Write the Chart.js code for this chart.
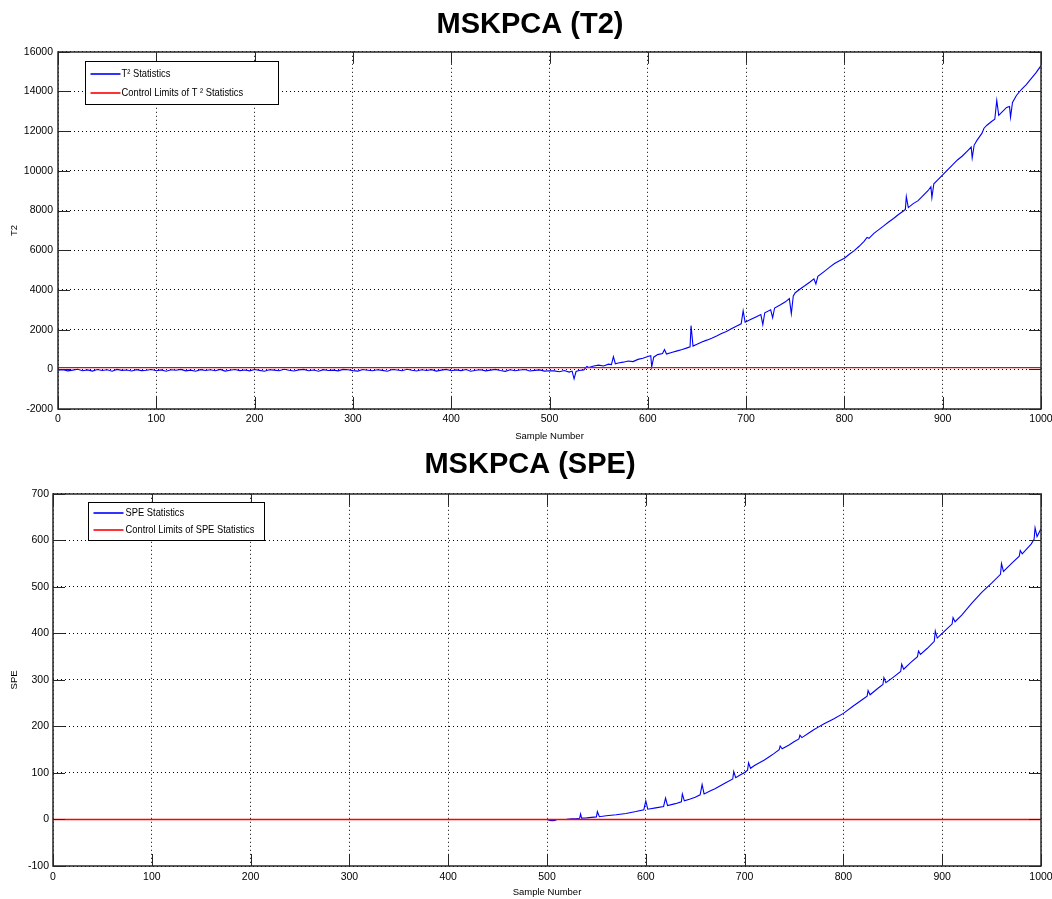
<!DOCTYPE html>
<html>
<head>
<meta charset="utf-8">
<script src="https://cdn.jsdelivr.net/npm/chart.js@4.4.1/dist/chart.umd.min.js"></script>
<style>
  html, body { margin: 0; padding: 0; background: #fff; }
  body { width: 1052px; height: 899px; position: relative; overflow: hidden; }
  .panel { position: absolute; left: 0; width: 1052px; }
  #panel-t2 { top: 0; height: 445px; }
  #panel-spe { top: 445px; height: 454px; }
</style>
</head>
<body>
<div class="panel" id="panel-t2"><canvas id="chart-t2"></canvas></div>
<div class="panel" id="panel-spe"><canvas id="chart-spe"></canvas></div>
<script>
// x ticks shared by both plots
const sampleTicks = [0, 100, 200, 300, 400, 500, 600, 700, 800, 900, 1000];

// T2: samples 0..500 every 5 samples (noise just under the limit)
const t2EarlyStep = 5;
const t2EarlyValues = [
  -50, -20, -80, -40, 0, -70, -30, -90, -10, -60,
  -25, -95, -5, -55, -35, -85, -15, -65, -45, -10,
  -75, -30, -95, -20, -50, -5, -80, -40, -100, -15,
  -60, -25, -70, -5, -90, -45, -10, -65, -35, -80,
  -10, -55, -100, -20, -40, -75, 0, -50, -85, -30,
  -5, -70, -35, -95, -15, -60, -40, -80, -5, -25,
  -65, -90, -10, -45, -75, -20, -55, -100, -10, -35,
  -70, 0, -50, -85, -25, -60, -15, -90, -40, -5,
  -75, -30, -65, -10, -95, -50, -20, -80, -40, -5,
  -60, -105, -20, -70, -35, -10, -85, -55, -30, -90,
  -70,
];

// T2: samples after 500
const t2LateSamples = [
  505, 510, 515, 520, 523, 525, 527, 530, 535, 538,
  540, 545, 550, 555, 560, 563, 565, 567, 570, 575,
  580, 585, 590, 595, 600, 603, 604, 606, 610, 615,
  617, 619, 625, 630, 635, 640, 643, 644, 646, 650,
  655, 660, 665, 670, 675, 680, 685, 690, 695, 697,
  699, 705, 710, 715, 717, 719, 725, 727, 729, 735,
  740, 744, 746, 748, 750, 755, 760, 765, 769, 771,
  773, 780, 785, 790, 795, 800, 805, 810, 815, 820,
  823, 825, 830, 836, 840, 845, 850, 855, 860, 862,
  863, 865, 870, 875, 880, 885, 888, 889, 891, 895,
  900, 905, 910, 915, 920, 925, 929, 930, 932, 935,
  940, 942, 945, 950, 953, 955, 957, 960, 965, 968,
  969, 971, 975, 980, 985, 990, 995, 1000,
];
const t2LateValues = [
  -80, -120, -60, -140, -90, -480, -110, -60, -30, 140,
  90, 170, 210, 170, 260, 240, 640, 280, 320, 360,
  420, 390, 500, 560, 650, 690, 120, 610, 740, 800,
  1000, 770, 860, 930, 1000, 1080, 1130, 2200, 1170, 1260,
  1380, 1470, 1570, 1680, 1800, 1910, 2040, 2170, 2290, 2950,
  2370, 2520, 2640, 2760, 2250, 2850, 3000, 2600, 3090, 3250,
  3400, 3560, 2800, 3700, 3860, 4050, 4220, 4400, 4560, 4300,
  4680, 4950, 5150, 5330, 5470, 5600, 5800, 5980, 6200, 6450,
  6650, 6600, 6850, 7080, 7230, 7420, 7600, 7800, 7980, 8060,
  8700, 8150, 8350, 8500, 8750, 9000, 9200, 8650, 9350, 9550,
  9800, 10050, 10300, 10550, 10750, 11000, 11200, 10650, 11300, 11550,
  11900, 12150, 12300, 12500, 12600, 13550, 12800, 12950, 13200, 13250,
  12700, 13450, 13800, 14100, 14350, 14650, 14950, 15300,
];

const t2LimitSamples = [0, 1000];
const t2LimitValues = [90, 90];
const t2Ticks = [-2000, 0, 2000, 4000, 6000, 8000, 10000, 12000, 14000, 16000];

// SPE
const speSamples = [
  0, 100, 200, 300, 400, 500, 503, 505, 508, 510,
  515, 520, 525, 530, 533, 534, 535, 540, 545, 550,
  551, 553, 560, 570, 580, 590, 598, 600, 602, 610,
  618, 620, 622, 630, 636, 637, 639, 645, 650, 655,
  657, 659, 665, 670, 675, 680, 688, 689, 691, 695,
  700, 703, 704, 706, 710, 715, 720, 725, 730, 735,
  736, 738, 745, 750, 755, 756, 758, 765, 770, 775,
  780, 790, 800, 810, 820, 824, 825, 827, 835, 840,
  841, 843, 850, 858, 859, 861, 868, 875, 876, 878,
  885, 892, 893, 895, 900, 905, 910, 911, 913, 920,
  930, 940, 950, 959, 960, 962, 970, 978, 979, 981,
  990, 993, 994, 996, 1000,
];
const speValues = [
  0, 0, 0, 0, 0, 0, -2, -2.5, -2, 0,
  0, 0.5, 1.5, 2, 2.5, 12, 3, 3.5, 4.5, 5.5,
  17, 6, 8, 10, 13, 17, 21, 40, 22, 25,
  28, 46, 30, 34, 38, 55, 40, 44, 48, 53,
  75, 55, 61, 66, 72, 78, 87, 103, 90, 95,
  101, 106, 122, 110, 116, 122, 128, 135, 142, 150,
  158, 152, 160, 167, 173, 181, 176, 186, 193, 199,
  205, 216, 228, 244, 259, 265, 277, 268, 282, 290,
  305, 294, 305, 318, 334, 323, 337, 350, 362, 355,
  368, 383, 405, 390, 400, 410, 420, 434, 425, 440,
  465, 488, 508, 527, 550, 533, 550, 566, 578, 571,
  592, 602, 627, 608, 625,
];
const speLimitSamples = [0, 1000];
const speLimitValues = [0, 0];
const speTicks = [-100, 0, 100, 200, 300, 400, 500, 600, 700];

const FONT = "'Liberation Sans', Arial, Helvetica, sans-serif";

function toPoints(xs, ys) {
  return xs.map((x, i) => ({ x, y: ys[i] }));
}

// box + inward tick marks, matlab style
const matlabFrame = {
  id: "matlabFrame",
  afterDatasetsDraw(chart, args, opts) {
    const { ctx, chartArea: a, scales } = chart;
    const len = opts.tickLength;
    ctx.save();
    ctx.strokeStyle = "#262626";
    ctx.lineWidth = 1;
    ctx.beginPath();
    scales.x.ticks.forEach((t) => {
      const px = Math.round(scales.x.getPixelForValue(t.value)) + 0.5;
      ctx.moveTo(px, a.bottom);
      ctx.lineTo(px, a.bottom - len);
      ctx.moveTo(px, a.top);
      ctx.lineTo(px, a.top + len);
    });
    scales.y.ticks.forEach((t) => {
      const py = Math.round(scales.y.getPixelForValue(t.value)) + 0.5;
      ctx.moveTo(a.left, py);
      ctx.lineTo(a.left + len, py);
      ctx.moveTo(a.right, py);
      ctx.lineTo(a.right - len, py);
    });
    ctx.stroke();
    ctx.lineWidth = 1.5;
    ctx.strokeRect(Math.round(a.left), Math.round(a.top), Math.round(a.width), Math.round(a.height));
    ctx.restore();
  },
};

// boxed legend in the upper left corner, narrow text
const boxLegend = {
  id: "boxLegend",
  afterDraw(chart, args, opts) {
    const { ctx, chartArea: a } = chart;
    const x = Math.round(a.left + opts.left) + 0.5;
    const y = Math.round(a.top + opts.top) + 0.5;
    ctx.save();
    ctx.fillStyle = "#fff";
    ctx.fillRect(x, y, opts.width, opts.height);
    ctx.strokeStyle = "#000";
    ctx.lineWidth = 1;
    ctx.strokeRect(x, y, opts.width, opts.height);
    chart.data.datasets.forEach((ds, i) => {
      const ry = Math.round(y + opts.rows[i]);
      ctx.strokeStyle = opts.colors[i];
      ctx.lineWidth = 1.6;
      ctx.beginPath();
      ctx.moveTo(x + 5, ry);
      ctx.lineTo(x + 35, ry);
      ctx.stroke();
      ctx.save();
      ctx.translate(x + opts.textX, ry);
      ctx.scale(0.85, 1);
      ctx.font = `11px ${FONT}`;
      ctx.textBaseline = "middle";
      ctx.fillStyle = "#000";
      ctx.fillText(ds.label, 0, 0);
      ctx.restore();
    });
    ctx.restore();
  },
};

function buildChart(canvasId, cfg) {
  return new Chart(document.getElementById(canvasId), {
    type: "line",
    data: {
      datasets: [
        {
          label: cfg.labels[0],
          data: cfg.series,
          borderColor: "#0000ff",
          borderWidth: 1.1,
          pointRadius: 0,
          tension: 0,
          order: 2,
        },
        {
          label: cfg.labels[1],
          data: cfg.limit,
          borderColor: "#ff0000",
          borderWidth: 1.3,
          pointRadius: 0,
          tension: 0,
          order: 1,
        },
      ],
    },
    options: {
      responsive: true,
      maintainAspectRatio: false,
      animation: false,
      events: [],
      layout: { padding: { left: 8, right: 0, top: 0, bottom: 0 } },
      plugins: {
        legend: { display: false },
        tooltip: { enabled: false },
        title: {
          display: true,
          text: cfg.title,
          color: "#000",
          font: { family: FONT, size: 29, weight: "bold" },
          padding: cfg.titlePadding,
        },
        matlabFrame: { tickLength: 12 },
        boxLegend: cfg.legend,
      },
      scales: {
        x: {
          type: "linear",
          min: 0,
          max: 1000,
          afterBuildTicks: (s) => { s.ticks = sampleTicks.map((v) => ({ value: v })); },
          ticks: {
            color: "#000",
            font: { family: FONT, size: 10.5 },
            padding: cfg.xTickPad,
            maxRotation: 0,
            autoSkip: false,
            callback: (v) => String(v),
          },
          grid: { color: "#000", drawTicks: false, lineWidth: 1 },
          border: { display: false, dash: [1, 3] },
          title: {
            display: true,
            text: "Sample Number",
            color: "#000",
            font: { family: FONT, size: 9.5 },
            padding: { top: 0, bottom: cfg.xTitlePad },
          },
          afterFit: (s) => {
            s.height = cfg.xHeight;
            s.paddingRight = 11;
          },
        },
        y: {
          type: "linear",
          min: cfg.yTicks[0],
          max: cfg.yTicks[cfg.yTicks.length - 1],
          afterBuildTicks: (s) => { s.ticks = cfg.yTicks.map((v) => ({ value: v })); },
          ticks: {
            color: "#000",
            font: { family: FONT, size: 10.5 },
            padding: cfg.yTickPad,
            autoSkip: false,
            callback: (v) => String(v),
          },
          grid: { color: "#000", drawTicks: false, lineWidth: 1 },
          border: { display: false, dash: [1, 3] },
          title: {
            display: true,
            text: cfg.yTitle,
            color: "#000",
            font: { family: FONT, size: 9.5 },
            padding: { top: 1, bottom: 0 },
          },
          afterFit: (s) => { s.width = cfg.yWidth; },
        },
      },
    },
    plugins: [matlabFrame, boxLegend],
  });
}

const t2Series = toPoints(
  t2EarlyValues.map((_, i) => i * t2EarlyStep).concat(t2LateSamples),
  t2EarlyValues.concat(t2LateValues)
);

buildChart("chart-t2", {
  title: "MSKPCA (T2)",
  titlePadding: { top: 8, bottom: 9 },
  labels: ["T\u00b2 Statistics", "Control Limits of T \u00b2 Statistics"],
  series: t2Series,
  limit: toPoints(t2LimitSamples, t2LimitValues),
  yTicks: t2Ticks,
  yTitle: "T2",
  yWidth: 50,
  yTickPad: 5,
  xHeight: 36,
  xTickPad: 4,
  xTitlePad: 3,
  legend: { left: 27, top: 9, width: 193, height: 43, rows: [12, 31], textX: 36, colors: ["#0000ff", "#ff0000"] },
});

buildChart("chart-spe", {
  title: "MSKPCA (SPE)",
  titlePadding: { top: 3, bottom: 11 },
  labels: ["SPE Statistics", "Control Limits of SPE Statistics"],
  series: toPoints(speSamples, speValues),
  limit: toPoints(speLimitSamples, speLimitValues),
  yTicks: speTicks,
  yTitle: "SPE",
  yWidth: 45,
  yTickPad: 4,
  xHeight: 33,
  xTickPad: 5,
  xTitlePad: 1,
  legend: { left: 35, top: 8, width: 176, height: 38, rows: [10, 27], textX: 37, colors: ["#0000ff", "#ff0000"] },
});
</script>
</body>
</html>
